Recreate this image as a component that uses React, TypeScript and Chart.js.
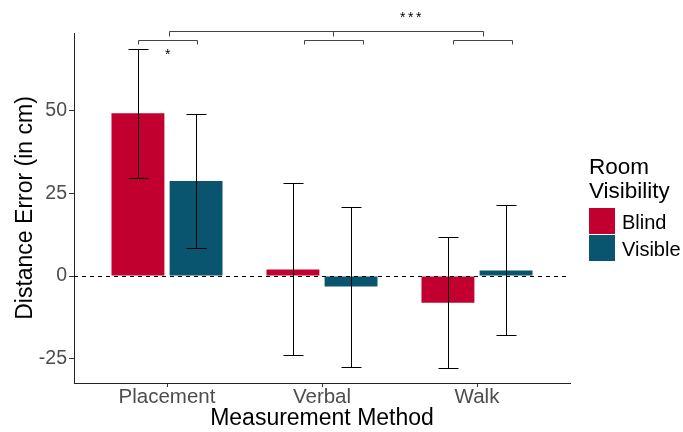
import React, { useEffect, useRef } from 'react';
import { Chart, registerables } from 'chart.js';

Chart.register(...registerables);

const categories = ['Placement', 'Verbal', 'Walk'];
const seriesNames = ['Blind', 'Visible'];
const blindMean = [49.3, 2.0, -8.1];
const blindLow = [29.8, -23.8, -28.0];
const blindHigh = [68.9, 28.1, 11.7];
const visibleMean = [28.8, -3.2, 1.7];
const visibleLow = [8.6, -27.5, -18.0];
const visibleHigh = [49.2, 20.9, 21.5];
const yTicks = [-25, 0, 25, 50];
const legendTitle = ['Room', 'Visibility'];
const colors = ['#C1002F', '#09546F'];

// significance annotations (data coordinates)
const pairBracketsX = [
  [0.812, 1.191],
  [1.883, 2.262],
  [2.848, 3.227],
];
const pairBracketY = [71.56, 70.17];
const topBracketX = [1.011, 2.072, 3.037];
const topBracketY = [74.2, 72.6];
const sigText = ['*', '***'];
const sigX = [1.005, 2.572];
const sigY = [68.2, 79.3];

const FONT = '"Liberation Sans", Arial, Helvetica, sans-serif';

const overlay = {
  id: 'overlay',
  afterDatasetsDraw(chart: any) {
    const { ctx, scales, chartArea } = chart;
    const x = scales.x;
    const y = scales.y;
    ctx.save();
    // error bars
    const lows = [blindLow, visibleLow];
    const highs = [blindHigh, visibleHigh];
    ctx.strokeStyle = '#000';
    ctx.lineWidth = 1;
    for (let d = 0; d < 2; d++) {
      const meta = chart.getDatasetMeta(d);
      meta.data.forEach((bar: any, i: number) => {
        const cx = Math.round(bar.x) + 0.5;
        const yt = Math.round(y.getPixelForValue(highs[d][i])) + 0.5;
        const yb = Math.round(y.getPixelForValue(lows[d][i])) + 0.5;
        ctx.beginPath();
        ctx.moveTo(cx, yt);
        ctx.lineTo(cx, yb);
        ctx.moveTo(cx - 10, yt);
        ctx.lineTo(cx + 10, yt);
        ctx.moveTo(cx - 10, yb);
        ctx.lineTo(cx + 10, yb);
        ctx.stroke();
      });
    }
    // dashed zero line
    const y0 = Math.round(y.getPixelForValue(0)) + 0.5;
    ctx.setLineDash([4, 4]);
    ctx.beginPath();
    ctx.moveTo(chartArea.left, y0);
    ctx.lineTo(chartArea.right, y0);
    ctx.stroke();
    ctx.setLineDash([]);

    // brackets
    ctx.strokeStyle = '#444';
    const py = Math.round(y.getPixelForValue(pairBracketY[0])) + 0.5;
    const pl = Math.round(y.getPixelForValue(pairBracketY[1])) + 0.5;
    pairBracketsX.forEach(([a, b]) => {
      const xa = Math.round(x.getPixelForValue(a)) + 0.5;
      const xb = Math.round(x.getPixelForValue(b)) + 0.5;
      ctx.beginPath();
      ctx.moveTo(xa, pl);
      ctx.lineTo(xa, py);
      ctx.lineTo(xb, py);
      ctx.lineTo(xb, pl);
      ctx.stroke();
    });
    const ty = Math.round(y.getPixelForValue(topBracketY[0])) + 0.5;
    const tl = Math.round(y.getPixelForValue(topBracketY[1])) + 0.5;
    const t0 = Math.round(x.getPixelForValue(topBracketX[0])) + 0.5;
    const t1 = Math.round(x.getPixelForValue(topBracketX[1])) + 0.5;
    const t2 = Math.round(x.getPixelForValue(topBracketX[2])) + 0.5;
    ctx.beginPath();
    ctx.moveTo(t0, tl);
    ctx.lineTo(t0, ty);
    ctx.lineTo(t2, ty);
    ctx.lineTo(t2, tl);
    ctx.moveTo(t1, ty);
    ctx.lineTo(t1, tl);
    ctx.stroke();

    // significance stars
    ctx.fillStyle = '#000';
    ctx.font = `14px ${FONT}`;
    ctx.textBaseline = 'alphabetic';
    ctx.textAlign = 'left';
    sigText.forEach((s, i) => {
      const cx = x.getPixelForValue(sigX[i]);
      const cy = y.getPixelForValue(sigY[i]);
      const step = 8;
      const cw = ctx.measureText('*').width;
      const total = (s.length - 1) * step + cw;
      for (let k = 0; k < s.length; k++) {
        ctx.fillText(s[k], cx - total / 2 + k * step, cy + 0.58 * 14);
      }
    });
    ctx.restore();
  },
  afterDraw(chart: any) {
    const { ctx, chartArea } = chart;
    ctx.save();
    const lx = chartArea.right + 19;
    ctx.fillStyle = '#000';
    ctx.textAlign = 'left';
    ctx.textBaseline = 'alphabetic';
    ctx.font = `22.5px ${FONT}`;
    ctx.fillText(legendTitle[0], lx, 174);
    ctx.fillText(legendTitle[1], lx, 198);
    ctx.font = `20px ${FONT}`;
    seriesNames.forEach((name, i) => {
      const top = 208 + i * 27;
      ctx.fillStyle = colors[i];
      ctx.fillRect(lx, top, 26, 26);
      ctx.fillStyle = '#000';
      ctx.fillText(name, lx + 33, top + 20.5);
    });
    ctx.restore();
  },
};

export default function App() {
  const ref = useRef<HTMLCanvasElement | null>(null);
  useEffect(() => {
    if (!ref.current) return;
    const chart = new Chart(ref.current, {
      type: 'bar',
      data: {
        datasets: [
          {
            label: seriesNames[0],
            data: blindMean.map((v, i) => ({ x: i + 1, y: v })),
            backgroundColor: colors[0],
            borderWidth: 0,
          },
          {
            label: seriesNames[1],
            data: visibleMean.map((v, i) => ({ x: i + 1, y: v })),
            backgroundColor: colors[1],
            borderWidth: 0,
          },
        ],
      },
      options: {
        responsive: false,
        animation: false,
        events: [],
        layout: { padding: { top: 33, right: 113, left: 0, bottom: 0 } },
        datasets: { bar: { categoryPercentage: 0.75, barPercentage: 0.91 } },
        plugins: { legend: { display: false }, tooltip: { enabled: false } },
        scales: {
          x: {
            type: 'linear',
            min: 0.4,
            max: 3.6,
            offset: false,
            afterBuildTicks: (s: any) => {
              s.ticks = categories.map((_, i) => ({ value: i + 1 }));
            },
            afterFit: (s: any) => {
              s.height = 49;
            },
            grid: { offset: false, drawOnChartArea: false, tickLength: 4, tickColor: '#333', tickWidth: 1 },
            border: { color: '#222', width: 1 },
            ticks: {
              padding: 0,
              color: '#4D4D4D',
              font: { family: FONT, size: 20.5, lineHeight: 1 },
              maxRotation: 0,
              autoSkip: false,
              callback: (_v: any, i: number) => categories[i],
            },
            title: {
              display: true,
              text: 'Measurement Method',
              color: '#000',
              font: { family: FONT, size: 23 },
              padding: { top: 0, bottom: 0 },
            },
          },
          y: {
            type: 'linear',
            min: -32.4,
            max: 73.6,
            afterBuildTicks: (s: any) => {
              s.ticks = yTicks.map((v) => ({ value: v }));
            },
            afterFit: (s: any) => {
              s.width = 74;
            },
            grid: { drawOnChartArea: false, tickLength: 5, tickColor: '#333', tickWidth: 1 },
            border: { color: '#222', width: 1 },
            ticks: {
              padding: 2,
              color: '#4D4D4D',
              font: { family: FONT, size: 19.5 },
              autoSkip: false,
            },
            title: {
              display: true,
              text: 'Distance Error (in cm)',
              color: '#000',
              font: { family: FONT, size: 23 },
              padding: { top: 11.5, bottom: 0 },
            },
          },
        },
      },
      plugins: [overlay],
    } as any);
    return () => chart.destroy();
  }, []);
  return (
    <div style={{ position: 'fixed', left: 0, top: 0, width: 683, height: 432, background: '#fff' }}>
      <canvas ref={ref} width={683} height={432} style={{ display: 'block' }} />
    </div>
  );
}
